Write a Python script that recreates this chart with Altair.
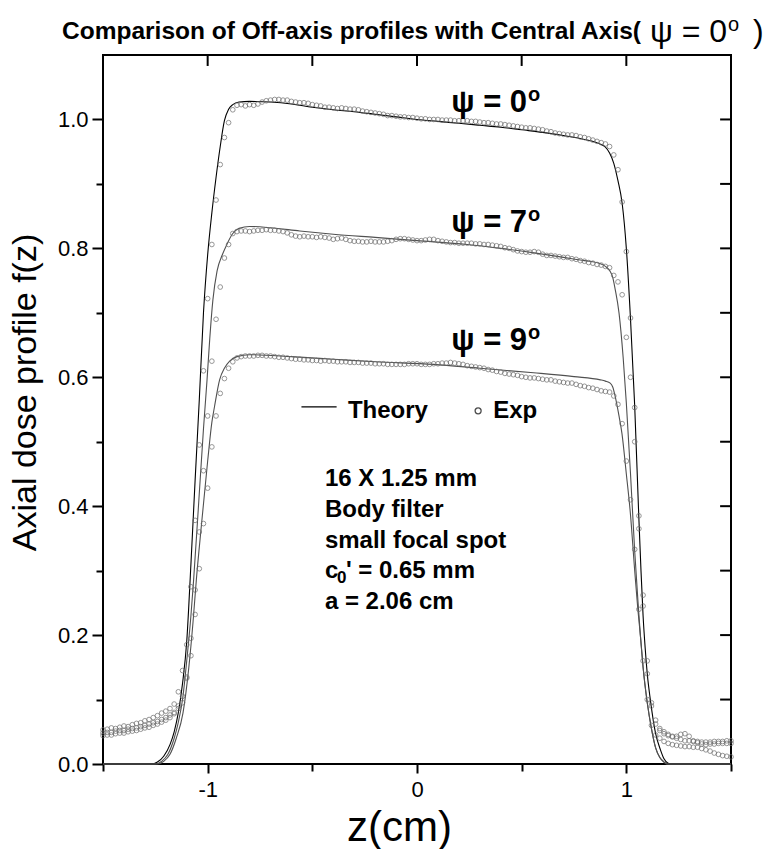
import altair as alt
import pandas as pd

# ---------------- data ----------------
SERIES = ["psi0", "psi7", "psi9"]

# experimental sampling grid (cm), evenly sampled from -1.5 to 1.5
EXP_Z = [round(-1.5 + 0.02 * i, 2) for i in range(151)]

EXP_PSI0 = [
    0.053, 0.054, 0.056, 0.055, 0.057, 0.059, 0.058, 0.061, 0.063, 0.064, 0.067, 0.069, 0.072, 0.075, 0.079,
    0.082, 0.086, 0.093, 0.112, 0.145, 0.185, 0.275, 0.378, 0.495, 0.610, 0.722, 0.806, 0.875, 0.930, 0.972, 0.995, 1.015,
    1.022, 1.023, 1.021, 1.023, 1.022, 1.024, 1.027, 1.029, 1.030, 1.031,
    1.031, 1.030, 1.030, 1.028, 1.027, 1.026, 1.026, 1.025, 1.023, 1.022,
    1.021, 1.019, 1.019, 1.018, 1.017, 1.018, 1.017, 1.016, 1.016, 1.015,
    1.013, 1.012, 1.011, 1.010, 1.009, 1.008, 1.006, 1.006, 1.005, 1.004,
    1.004, 1.003, 1.003, 1.002, 1.001, 1.001, 1.000, 1.000, 1.000, 0.999,
    0.999, 0.999, 0.998, 0.998, 0.998, 0.998, 0.997, 0.997, 0.996, 0.995,
    0.995, 0.994, 0.993, 0.993, 0.992, 0.991, 0.990, 0.989, 0.988, 0.987,
    0.987, 0.986, 0.985, 0.984, 0.982, 0.981, 0.979, 0.978, 0.977, 0.976,
    0.976, 0.975, 0.973, 0.972, 0.970, 0.968, 0.966, 0.964, 0.962, 0.958,
    0.945, 0.922, 0.872, 0.795, 0.692, 0.553, 0.385, 0.262, 0.160, 0.095, 0.068,
    0.055, 0.050, 0.046, 0.043, 0.040, 0.038, 0.036, 0.036, 0.035, 0.035, 0.034, 0.034, 0.034, 0.035, 0.035, 0.035, 0.036, 0.036,
]
EXP_PSI7 = [
    0.048, 0.049, 0.049, 0.051, 0.052, 0.052, 0.054, 0.055, 0.056, 0.058, 0.060, 0.062, 0.064, 0.066, 0.069,
    0.072, 0.076, 0.080, 0.086, 0.095, 0.135, 0.195, 0.270, 0.360, 0.455, 0.540, 0.625, 0.690, 0.740, 0.785, 0.806, 0.823,
    0.826, 0.827, 0.827, 0.826, 0.827, 0.828, 0.828, 0.829, 0.828, 0.828,
    0.827, 0.826, 0.824, 0.821, 0.819, 0.818, 0.819, 0.818, 0.818, 0.817,
    0.818, 0.817, 0.816, 0.814, 0.815, 0.816, 0.814, 0.812, 0.811, 0.811,
    0.810, 0.810, 0.811, 0.810, 0.810, 0.810, 0.811, 0.812, 0.814, 0.815,
    0.815, 0.814, 0.813, 0.812, 0.812, 0.813, 0.814, 0.814, 0.812, 0.811,
    0.810, 0.809, 0.809, 0.808, 0.808, 0.808, 0.808, 0.807, 0.807, 0.806,
    0.806, 0.805, 0.804, 0.803, 0.801, 0.800, 0.798, 0.796, 0.795, 0.794,
    0.794, 0.795, 0.794, 0.791, 0.789, 0.789, 0.788, 0.787, 0.786, 0.786,
    0.784, 0.783, 0.781, 0.780, 0.778, 0.777, 0.775, 0.774, 0.772, 0.770,
    0.758, 0.748, 0.728, 0.662, 0.600, 0.500, 0.365, 0.245, 0.140, 0.090, 0.062,
    0.052, 0.047, 0.044, 0.042, 0.043, 0.046, 0.047, 0.043, 0.036, 0.033, 0.031, 0.030, 0.031, 0.031, 0.032, 0.032, 0.032, 0.032,
]
EXP_PSI9 = [
    0.044, 0.045, 0.045, 0.047, 0.048, 0.048, 0.050, 0.051, 0.052, 0.054, 0.056, 0.057, 0.060, 0.062, 0.065,
    0.068, 0.072, 0.078, 0.090, 0.105, 0.133, 0.168, 0.232, 0.303, 0.373, 0.428, 0.492, 0.540, 0.575, 0.598, 0.614, 0.624,
    0.630, 0.632, 0.633, 0.633, 0.633, 0.634, 0.634, 0.633, 0.633, 0.632,
    0.631, 0.631, 0.630, 0.629, 0.628, 0.628, 0.627, 0.627, 0.626, 0.626,
    0.625, 0.626, 0.625, 0.625, 0.624, 0.624, 0.624, 0.623, 0.623, 0.623,
    0.622, 0.622, 0.622, 0.621, 0.621, 0.621, 0.620, 0.620, 0.620, 0.620,
    0.620, 0.621, 0.621, 0.621, 0.620, 0.620, 0.620, 0.621, 0.621, 0.622,
    0.622, 0.623, 0.622, 0.621, 0.620, 0.618, 0.617, 0.616, 0.615, 0.614,
    0.612, 0.611, 0.609, 0.608, 0.606, 0.605, 0.604, 0.603, 0.601, 0.600,
    0.599, 0.599, 0.598, 0.597, 0.596, 0.596, 0.594, 0.593, 0.592, 0.591,
    0.591, 0.589, 0.587, 0.586, 0.584, 0.583, 0.581, 0.579, 0.578, 0.577,
    0.571, 0.558, 0.528, 0.470, 0.410, 0.333, 0.240, 0.160, 0.100, 0.060, 0.045,
    0.040, 0.035, 0.032, 0.030, 0.029, 0.028, 0.027, 0.027, 0.026, 0.026, 0.024, 0.022, 0.020, 0.017, 0.015, 0.013, 0.012, 0.011,
]
assert len(EXP_PSI0) == len(EXP_PSI7) == len(EXP_PSI9) == len(EXP_Z)

# theory curves (knots)
TH0_Z = [-1.5, -1.27, -1.24, -1.21, -1.18, -1.16, -1.14, -1.12, -1.10, -1.08, -1.06, -1.04, -1.02, -1.00, -0.98,
         -0.96, -0.94, -0.92, -0.90, -0.88, -0.85, -0.80, -0.70, -0.60, -0.50, -0.40, -0.30, -0.20, -0.10, 0.0,
         0.1, 0.2, 0.3, 0.4, 0.5, 0.6, 0.7, 0.8, 0.85, 0.88, 0.90, 0.92, 0.94, 0.96, 0.98, 1.00, 1.02, 1.04,
         1.06, 1.07, 1.08, 1.09, 1.10, 1.115, 1.13, 1.14, 1.163, 1.18, 1.20, 1.22, 1.5]
TH0_V = [0, 0, 0.003, 0.012, 0.030, 0.050, 0.080, 0.125, 0.190, 0.310, 0.440, 0.565, 0.700, 0.790, 0.855,
         0.910, 0.958, 0.998, 1.016, 1.023, 1.027, 1.028, 1.027, 1.024, 1.019, 1.015, 1.012, 1.008, 1.004, 1.000,
         0.997, 0.994, 0.991, 0.988, 0.984, 0.980, 0.975, 0.969, 0.965, 0.961, 0.957, 0.948, 0.932, 0.905, 0.870, 0.800, 0.690, 0.555,
         0.380, 0.300, 0.230, 0.180, 0.140, 0.099, 0.065, 0.047, 0.022, 0.008, 0.001, 0, 0]
TH7_Z = [-1.5, -1.25, -1.22, -1.19, -1.16, -1.14, -1.12, -1.10, -1.08, -1.067, -1.04, -1.02, -1.003, -0.99, -0.975,
         -0.955, -0.93, -0.91, -0.88, -0.85, -0.80, -0.70, -0.56, -0.40, -0.20, 0.0, 0.24, 0.40, 0.56, 0.70,
         0.80, 0.876, 0.90, 0.923, 0.935, 0.947, 0.965, 0.985, 1.00, 1.02, 1.04, 1.055, 1.067, 1.08, 1.10,
         1.12, 1.14, 1.16, 1.18, 1.195, 1.5]
TH7_V = [0, 0, 0.004, 0.015, 0.040, 0.065, 0.100, 0.160, 0.230, 0.286, 0.420, 0.520, 0.596, 0.660, 0.720,
         0.765, 0.790, 0.805, 0.823, 0.831, 0.834, 0.832, 0.827, 0.822, 0.817, 0.812, 0.806, 0.800, 0.793, 0.786,
         0.781, 0.776, 0.772, 0.764, 0.755, 0.736, 0.700, 0.630, 0.560, 0.450, 0.330, 0.255, 0.200, 0.150, 0.095,
         0.055, 0.025, 0.010, 0.003, 0, 0]
TH9_Z = [-1.5, -1.24, -1.21, -1.18, -1.15, -1.118, -1.09, -1.07, -1.054, -1.03, -1.00, -0.98, -0.967, -0.943, -0.92,
         -0.895, -0.86, -0.80, -0.60, -0.40, -0.20, 0.08, 0.30, 0.557, 0.75, 0.876, 0.90, 0.923, 0.935, 0.947,
         0.965, 0.979, 1.00, 1.019, 1.04, 1.055, 1.067, 1.08, 1.10, 1.12, 1.14, 1.16, 1.18, 1.195, 1.5]
TH9_V = [0, 0, 0.004, 0.015, 0.040, 0.079, 0.150, 0.220, 0.286, 0.370, 0.470, 0.530, 0.555, 0.596, 0.614,
         0.625, 0.632, 0.635, 0.632, 0.628, 0.624, 0.620, 0.614, 0.607, 0.601, 0.596, 0.594, 0.591, 0.585, 0.570,
         0.540, 0.513, 0.450, 0.390, 0.300, 0.240, 0.200, 0.150, 0.095, 0.055, 0.025, 0.010, 0.003, 0, 0]

PSI_LABELS = ["ψ = 0", "ψ = 7", "ψ = 9"]
NOTE_LINES = ["16 X 1.25 mm", "Body filter", "small focal spot", "a = 2.06 cm"]
TITLE = "Comparison of Off-axis profiles with Central Axis("

# axis tick positions
X_MAJOR = [-1, 0, 1]
X_MINOR = [-1.5, -0.5, 0.5, 1.5]
X_TOP = [-1.5, -1, -0.5, 0, 0.5, 1, 1.5]
Y_MAJOR = [0, 0.2, 0.4, 0.6, 0.8, 1.0]
Y_MINOR = [0.1, 0.3, 0.5, 0.7, 0.9]
Y_RIGHT = [0.1, 0.2, 0.3, 0.4, 0.5, 0.6, 0.7, 0.8, 0.9, 1.0]

# ---------------- tables ----------------
theory = pd.concat([
    pd.DataFrame({"z": TH0_Z, "v": TH0_V, "s": SERIES[0]}),
    pd.DataFrame({"z": TH7_Z, "v": TH7_V, "s": SERIES[1]}),
    pd.DataFrame({"z": TH9_Z, "v": TH9_V, "s": SERIES[2]}),
], ignore_index=True)
exp = pd.concat([
    pd.DataFrame({"z": EXP_Z, "v": EXP_PSI0, "s": SERIES[0]}),
    pd.DataFrame({"z": EXP_Z, "v": EXP_PSI7, "s": SERIES[1]}),
    pd.DataFrame({"z": EXP_Z, "v": EXP_PSI9, "s": SERIES[2]}),
], ignore_index=True)

FONT = "Liberation Sans, Arial, sans-serif"
W, H = 628, 709
X_DOM = [-1.5, 1.5]
Y_DOM = [0, 1.1]

xs = alt.Scale(domain=X_DOM, nice=False, zero=False)
ys = alt.Scale(domain=Y_DOM, nice=False, zero=False)

ax_bottom = alt.Axis(orient="bottom", values=X_MAJOR, labelExpr="replace(datum.label, '\u2212', '-')",
                     tickSize=9, labelFontSize=22, labelPadding=6,
                     title="z(cm)", titleFontSize=42, titleFontWeight="normal",
                     titleX=296, titleY=76, titleAlign="center", titleBaseline="alphabetic")
ax_left = alt.Axis(orient="left", values=Y_MAJOR, format=".1f",
                   tickSize=11, labelFontSize=22, labelPadding=4,
                   title="Axial dose profile f(z)", titleFontSize=34, titleFontWeight="normal",
                   titleX=-68, titleY=337, titleAngle=270, titleAlign="center", titleBaseline="alphabetic")
ax_bottom_minor = alt.Axis(orient="bottom", values=X_MINOR, labels=False, tickSize=7, title=None)
ax_left_minor = alt.Axis(orient="left", values=Y_MINOR, labels=False, tickSize=7, title=None)

colors = alt.Scale(domain=SERIES, range=["#000000", "#505050", "#505050"])

lines = alt.Chart(theory).mark_line(interpolate="monotone", strokeWidth=1.1).encode(
    x=alt.X("z:Q", scale=xs, axis=ax_bottom),
    y=alt.Y("v:Q", scale=ys, axis=ax_left),
    color=alt.Color("s:N", scale=colors, legend=None),
)

points = alt.Chart(exp).mark_point(shape="circle", filled=False, size=22, strokeWidth=1.0,
                                   color="#6a6a6a").encode(
    x=alt.X("z:Q", scale=xs, axis=ax_bottom_minor),
    y=alt.Y("v:Q", scale=ys, axis=ax_left_minor),
    detail="s:N",
)

# inward ticks on the top and right frame edges (about 11 px long, expressed in data units)
TOP_TICK_LEN = 0.017    # in f(z) units
RIGHT_TICK_LEN = 0.052  # in cm
top_df = pd.DataFrame({"z": X_TOP, "y1": [Y_DOM[1]] * len(X_TOP),
                       "y2": [Y_DOM[1] - TOP_TICK_LEN] * len(X_TOP)})
top_ticks = alt.Chart(top_df).mark_rule(color="black", strokeWidth=2, opacity=1).encode(
    x=alt.X("z:Q", scale=xs, axis=None),
    y=alt.Y("y1:Q", scale=ys, axis=None), y2="y2:Q")
right_df = pd.DataFrame({"v": Y_RIGHT, "x1": [X_DOM[1]] * len(Y_RIGHT),
                         "x2": [X_DOM[1] - RIGHT_TICK_LEN] * len(Y_RIGHT)})
right_ticks = alt.Chart(right_df).mark_rule(color="black", strokeWidth=2, opacity=1).encode(
    y=alt.Y("v:Q", scale=ys, axis=None),
    x=alt.X("x1:Q", scale=xs, axis=None), x2="x2:Q")

# psi labels
psi_df = pd.DataFrame({"z": [0.526, 0.526, 0.526], "v": [1.011, 0.826, 0.643], "t": PSI_LABELS})
psi_text = alt.Chart(psi_df).mark_text(align="right", baseline="alphabetic", fontSize=31, fontWeight="bold",
                                       font=FONT, color="black").encode(
    x=alt.X("z:Q", scale=xs, axis=None),
    y=alt.Y("v:Q", scale=ys, axis=None),
    text="t:N",
)
psi_sup = alt.Chart(psi_df).mark_text(align="left", baseline="alphabetic", fontSize=20, fontWeight="bold",
                                      font=FONT, dx=1, dy=-11, color="black").encode(
    x=alt.X("z:Q", scale=xs, axis=None),
    y=alt.Y("v:Q", scale=ys, axis=None),
    text=alt.value("o"),
)

# legend drawn inside the plot
leg_line = alt.Chart(pd.DataFrame({"z": [-0.552], "z2": [-0.384], "v": [0.554]})).mark_rule(
    color="black", strokeWidth=1.2).encode(
    x=alt.X("z:Q", scale=xs, axis=None), x2="z2:Q", y=alt.Y("v:Q", scale=ys, axis=None))
leg_pt = alt.Chart(pd.DataFrame({"z": [0.292], "v": [0.548]})).mark_point(
    shape="circle", filled=False, size=36, strokeWidth=1.3, color="black").encode(
    x=alt.X("z:Q", scale=xs, axis=None), y=alt.Y("v:Q", scale=ys, axis=None))
leg_txt = alt.Chart(pd.DataFrame({"z": [-0.33, 0.364], "v": [0.537, 0.537], "t": ["Theory", "Exp"]})).mark_text(
    align="left", baseline="alphabetic", fontSize=24, fontWeight="bold", font=FONT, color="black").encode(
    x=alt.X("z:Q", scale=xs, axis=None), y=alt.Y("v:Q", scale=ys, axis=None), text="t:N")

# annotation block
note_df = pd.DataFrame({"z": [-0.44] * 4, "v": [0.432, 0.383, 0.335, 0.241], "t": NOTE_LINES})
notes = alt.Chart(note_df).mark_text(align="left", baseline="alphabetic", fontSize=24, fontWeight="bold",
                                     font=FONT, color="black").encode(
    x=alt.X("z:Q", scale=xs, axis=None), y=alt.Y("v:Q", scale=ys, axis=None), text="t:N")
c_df = pd.DataFrame({"z": [-0.44], "v": [0.288]})
c_main = alt.Chart(c_df).mark_text(align="left", baseline="alphabetic", fontSize=24, fontWeight="bold",
                                   font=FONT, color="black").encode(
    x=alt.X("z:Q", scale=xs, axis=None), y=alt.Y("v:Q", scale=ys, axis=None), text=alt.value("c"))
c_sub = alt.Chart(c_df).mark_text(align="left", baseline="alphabetic", fontSize=17, fontWeight="bold",
                                  font=FONT, color="black", dx=12, dy=5).encode(
    x=alt.X("z:Q", scale=xs, axis=None), y=alt.Y("v:Q", scale=ys, axis=None), text=alt.value("0"))
c_rest = alt.Chart(c_df).mark_text(align="left", baseline="alphabetic", fontSize=24, fontWeight="bold",
                                   font=FONT, color="black", dx=21).encode(
    x=alt.X("z:Q", scale=xs, axis=None), y=alt.Y("v:Q", scale=ys, axis=None), text=alt.value("' = 0.65 mm"))

# title (drawn above the plot area)
one = pd.DataFrame({"k": [0]})
t_main = alt.Chart(one).mark_text(align="left", baseline="alphabetic", fontSize=24.5, fontWeight="bold",
                                  font=FONT, color="black").encode(
    x=alt.value(-41), y=alt.value(-16), text=alt.value(TITLE))
t_psi = alt.Chart(one).mark_text(align="right", baseline="alphabetic", fontSize=32, font=FONT,
                                 color="black").encode(
    x=alt.value(624), y=alt.value(-13), text=alt.value("ψ = 0"))
t_sup = alt.Chart(one).mark_text(align="left", baseline="alphabetic", fontSize=20, font=FONT,
                                 color="black").encode(
    x=alt.value(625), y=alt.value(-24), text=alt.value("o"))
t_par = alt.Chart(one).mark_text(align="left", baseline="alphabetic", fontSize=32, font=FONT,
                                 color="black").encode(
    x=alt.value(650), y=alt.value(-13), text=alt.value(")"))

chart = alt.layer(
    lines, points, psi_text, psi_sup, leg_line, leg_pt, leg_txt,
    notes, c_main, c_sub, c_rest, t_main, t_psi, t_sup, t_par, top_ticks, right_ticks,
).resolve_axis(x="independent", y="independent").properties(
    width=W, height=H,
    padding={"left": 103, "top": 55, "right": 43, "bottom": 85},
    autosize=alt.AutoSizeParams(type="none"),
    background="white",
).configure_view(stroke="black", strokeWidth=2).configure_axis(
    grid=False, domain=False, tickColor="black", tickWidth=2,
    labelColor="black", titleColor="black", labelFont=FONT, titleFont=FONT,
)

chart.save("out.html", embed_options={"renderer": "svg", "actions": False})
